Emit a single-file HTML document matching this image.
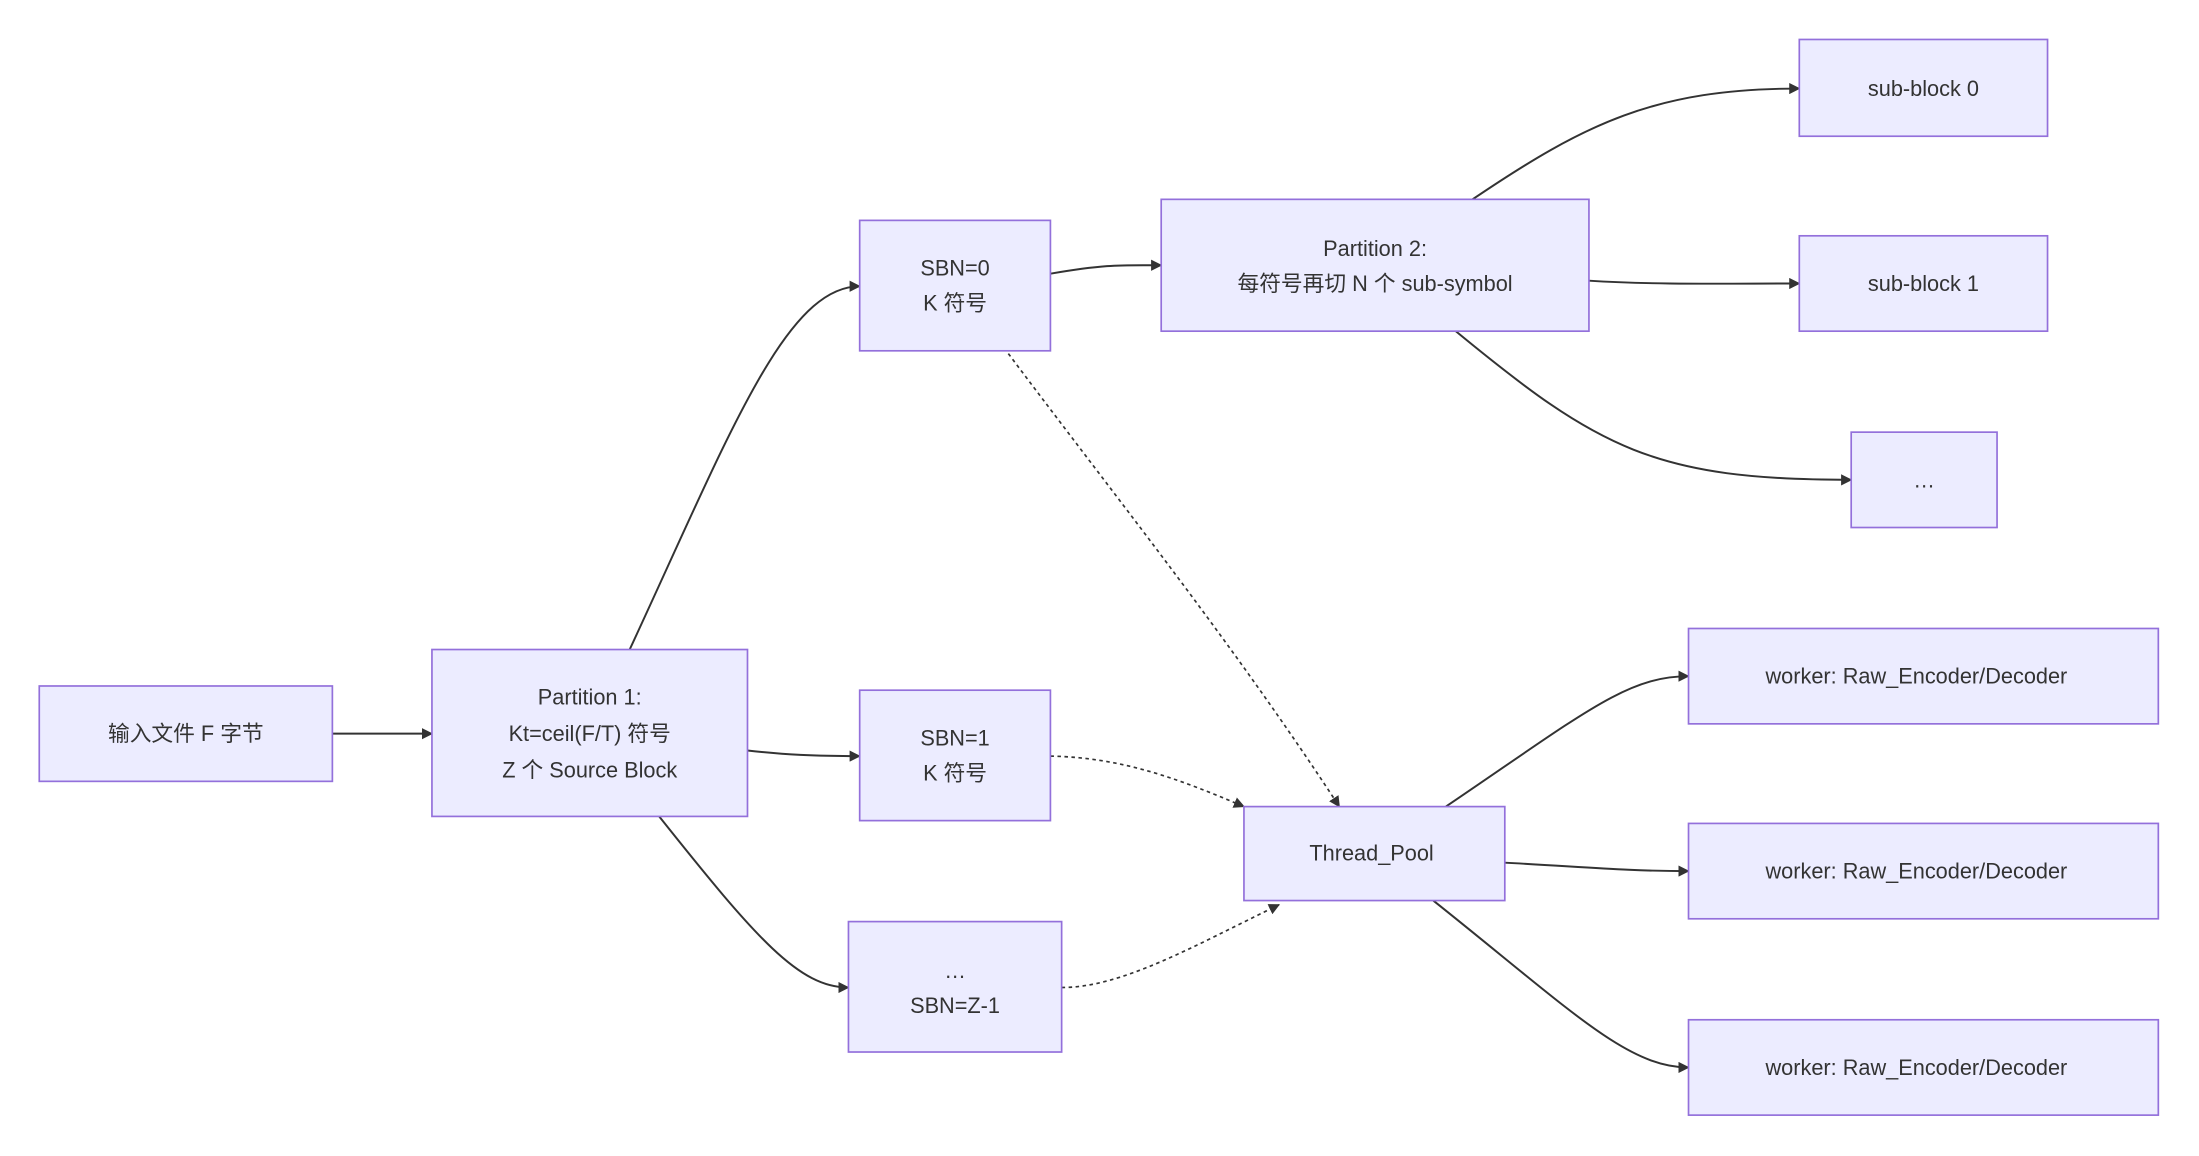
<!DOCTYPE html>
<html><head><meta charset="utf-8"><style>
html,body{margin:0;padding:0;background:#fff;width:2199px;height:1156px;overflow:hidden}
svg{display:block}
text{font-family:"Liberation Sans","Noto Sans CJK SC",sans-serif;font-size:15.5px;fill:#333;text-anchor:middle;dominant-baseline:central}
.n{fill:#ECECFF;stroke:#9370DB;stroke-width:1.2}
.e{fill:none;stroke:#333;stroke-width:1.4}
.d{fill:none;stroke:#333;stroke-width:1.2;stroke-dasharray:2.5 2.5}
</style></head><body>
<svg width="2199" height="1156" viewBox="0 0 1568 824" xmlns="http://www.w3.org/2000/svg">
<defs><marker id="a" viewBox="0 0 10 10" refX="9" refY="5" markerWidth="8" markerHeight="8" markerUnits="userSpaceOnUse" orient="auto"><path d="M0,0L10,5L0,10z" fill="#333"/></marker></defs>
<g>
<path class="e" marker-end="url(#a)" d="M237,523 L308,523"/>
<path class="e" marker-end="url(#a)" d="M449,463 C520,310 560,204 613,204"/>
<path class="e" marker-end="url(#a)" d="M533,535 C560,538 580,539 613,539"/>
<path class="e" marker-end="url(#a)" d="M470,582 C540,670 570,704 605,704"/>
<path class="e" marker-end="url(#a)" d="M749,195 C790,188 800,189 828,189"/>
<path class="e" marker-end="url(#a)" d="M1050,142 C1130,88 1180,63 1283,63"/>
<path class="e" marker-end="url(#a)" d="M1133,200 C1180,203 1230,202 1283,202"/>
<path class="e" marker-end="url(#a)" d="M1038,236 C1140,320 1180,342 1320,342"/>
<path class="d" marker-end="url(#a)" d="M719,252 C800,360 880,460 955,575"/>
<path class="d" marker-end="url(#a)" d="M749,539 C800,540 840,555 887,575"/>
<path class="d" marker-end="url(#a)" d="M757,704 C800,704 850,675 912,645"/>
<path class="e" marker-end="url(#a)" d="M1031,575 C1130,508 1160,482 1204,482"/>
<path class="e" marker-end="url(#a)" d="M1073,615 C1130,618 1160,621 1204,621"/>
<path class="e" marker-end="url(#a)" d="M1022,642 C1120,720 1160,761 1204,761"/>
</g>
<rect class="n" x="28" y="489" width="209" height="68"/><text x="132.5" y="523">输入文件 F 字节</text>
<rect class="n" x="308" y="463" width="225" height="119"/>
<text x="420.5" y="497">Partition 1:</text><text x="420.5" y="523">Kt=ceil(F/T) 符号</text><text x="420.5" y="549">Z 个 Source Block</text>
<rect class="n" x="613" y="157" width="136" height="93"/><text x="681" y="191">SBN=0</text><text x="681" y="216">K 符号</text>
<rect class="n" x="613" y="492" width="136" height="93"/><text x="681" y="526">SBN=1</text><text x="681" y="551">K 符号</text>
<rect class="n" x="605" y="657" width="152" height="93"/><text x="681" y="692">…</text><text x="681" y="717">SBN=Z-1</text>
<rect class="n" x="828" y="142" width="305" height="94"/><text x="980.5" y="177">Partition 2:</text><text x="980.5" y="202">每符号再切 N 个 sub-symbol</text>
<rect class="n" x="1283" y="28" width="177" height="69"/><text x="1371.5" y="63">sub-block 0</text>
<rect class="n" x="1283" y="168" width="177" height="68"/><text x="1371.5" y="202">sub-block 1</text>
<rect class="n" x="1320" y="308" width="104" height="68"/><text x="1372" y="342">…</text>
<rect class="n" x="887" y="575" width="186" height="67"/><text x="978" y="608">Thread_Pool</text>
<rect class="n" x="1204" y="448" width="335" height="68"/><text x="1366.5" y="482">worker: Raw_Encoder/Decoder</text>
<rect class="n" x="1204" y="587" width="335" height="68"/><text x="1366.5" y="621">worker: Raw_Encoder/Decoder</text>
<rect class="n" x="1204" y="727" width="335" height="68"/><text x="1366.5" y="761">worker: Raw_Encoder/Decoder</text>
</svg>
</body></html>
